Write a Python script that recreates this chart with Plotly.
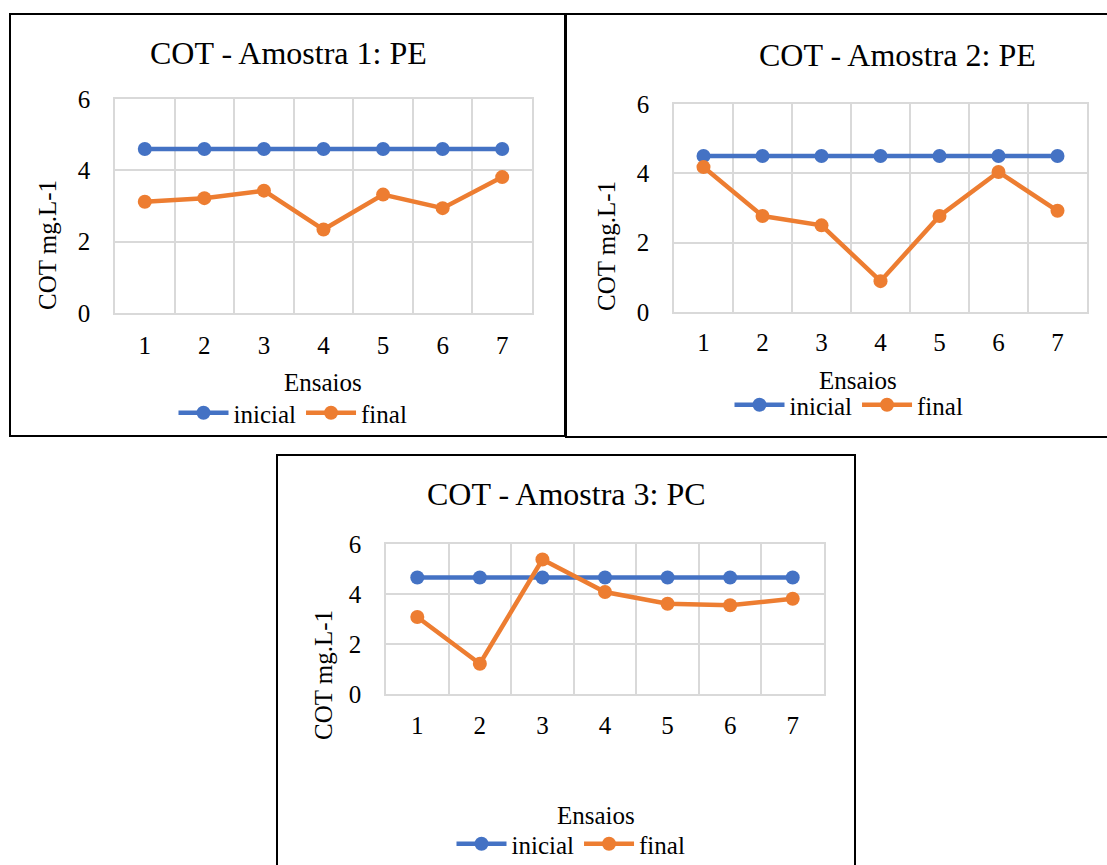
import plotly.graph_objects as go

W, H = 1107, 865

# Ensaios (trials) and COT readings per sample
ensaios = [1, 2, 3, 4, 5, 6, 7]

a1_inicial = [4.6, 4.6, 4.6, 4.6, 4.6, 4.6, 4.6]
a1_final = [3.12, 3.22, 3.43, 2.34, 3.32, 2.94, 3.81]

a2_inicial = [4.5, 4.5, 4.5, 4.5, 4.5, 4.5, 4.5]
a2_final = [4.18, 2.77, 2.50, 0.89, 2.77, 4.04, 2.92]

a3_inicial = [4.66, 4.66, 4.66, 4.66, 4.66, 4.66, 4.66]
a3_final = [3.08, 1.21, 5.38, 4.08, 3.61, 3.55, 3.81]

titles = ["COT - Amostra 1: PE", "COT - Amostra 2: PE", "COT - Amostra 3: PC"]
y_ticks = [0, 2, 4, 6]

BLUE = "#4472C4"
ORANGE = "#ED7D31"
GRID = "#D9D9D9"
FONT = "Liberation Serif"


def px(x):
    return x / W


def py(y):
    return 1 - y / H


# panel geometry in pixels: plot area (x0, x1, ytop, ybottom), box, title, labels, legend
panels = [
    dict(plot=(115, 532, 99, 313), box=(10, 14, 565, 436), title=(288, 53),
         ytitle=(47, 245), xtitle=(323, 383), legend=(293, 413), xpad=9),
    dict(plot=(674, 1087, 104, 312), box=(566, 14, 1112, 437), title=(897, 55),
         ytitle=(607, 246), xtitle=(858, 380), legend=(849, 405), xpad=7),
    dict(plot=(386, 824, 544, 694), box=(277, 455, 855, 875), title=(566, 494),
         ytitle=(323, 675), xtitle=(596, 815), legend=(571, 844), xpad=8),
]
series = [(a1_inicial, a1_final), (a2_inicial, a2_final), (a3_inicial, a3_final)]

fig = go.Figure()
annotations = []
shapes = []

for i, (p, (ini, fin)) in enumerate(zip(panels, series)):
    n = "" if i == 0 else str(i + 1)
    leg = "legend" if i == 0 else f"legend{i + 1}"
    for name, vals, color in (("inicial", ini, BLUE), ("final", fin, ORANGE)):
        fig.add_trace(go.Scatter(
            x=ensaios, y=vals, name=name, mode="lines+markers",
            line=dict(color=color, width=4.5),
            marker=dict(color=color, size=14),
            xaxis=f"x{n}", yaxis=f"y{n}", legend=leg,
        ))

    x0, x1, yt, yb = p["plot"]
    fig.layout[f"xaxis{n}"] = dict(
        domain=[px(x0), px(x1)], range=[0.5, 7.5], anchor=f"y{n}",
        tickvals=ensaios, showgrid=False, zeroline=False,
        showline=True, mirror=True, linecolor=GRID, linewidth=1.5,
        ticks="outside", ticklen=p["xpad"], tickcolor="rgba(0,0,0,0)",
        tickfont=dict(family=FONT, size=25, color="#000"),
        minor=dict(tick0=0.5, dtick=1, showgrid=True, gridcolor=GRID, gridwidth=1.5),
        fixedrange=True,
    )
    fig.layout[f"yaxis{n}"] = dict(
        domain=[py(yb), py(yt)], range=[0, 6], anchor=f"x{n}",
        tickvals=y_ticks, showgrid=True, gridcolor=GRID, gridwidth=1.5,
        zeroline=False, showline=True, mirror=True, linecolor=GRID, linewidth=1.5,
        ticks="outside", ticklen=18, tickcolor="rgba(0,0,0,0)",
        tickfont=dict(family=FONT, size=25, color="#000"),
        fixedrange=True,
    )

    bx0, by0, bx1, by1 = p["box"]
    shapes.append(dict(type="rect", xref="paper", yref="paper",
                       x0=px(bx0), x1=px(bx1), y0=py(by1), y1=py(by0),
                       line=dict(color="#000", width=2), fillcolor="rgba(0,0,0,0)",
                       layer="below"))

    tx, ty = p["title"]
    annotations.append(dict(text=titles[i], x=px(tx), y=py(ty), xref="paper", yref="paper",
                            showarrow=False, xanchor="center", yanchor="middle",
                            font=dict(family=FONT, size=32, color="#000")))
    ax, ay = p["ytitle"]
    annotations.append(dict(text="COT mg.L-1", x=px(ax), y=py(ay), xref="paper", yref="paper",
                            showarrow=False, textangle=-90, xanchor="center", yanchor="middle",
                            font=dict(family=FONT, size=25, color="#000")))
    ex, ey = p["xtitle"]
    annotations.append(dict(text="Ensaios", x=px(ex), y=py(ey), xref="paper", yref="paper",
                            showarrow=False, xanchor="center", yanchor="middle",
                            font=dict(family=FONT, size=25, color="#000")))

    lx, ly = p["legend"]
    fig.layout[leg] = dict(
        x=px(lx), y=py(ly), xanchor="center", yanchor="middle",
        orientation="h", bgcolor="rgba(0,0,0,0)",
        font=dict(family=FONT, size=25, color="#000"),
        itemwidth=50, tracegroupgap=0,
    )

fig.update_layout(
    width=W, height=H, margin=dict(l=0, r=0, t=0, b=0, autoexpand=False),
    paper_bgcolor="white", plot_bgcolor="white",
    showlegend=True, annotations=annotations, shapes=shapes,
)

fig.write_html("out.html")
